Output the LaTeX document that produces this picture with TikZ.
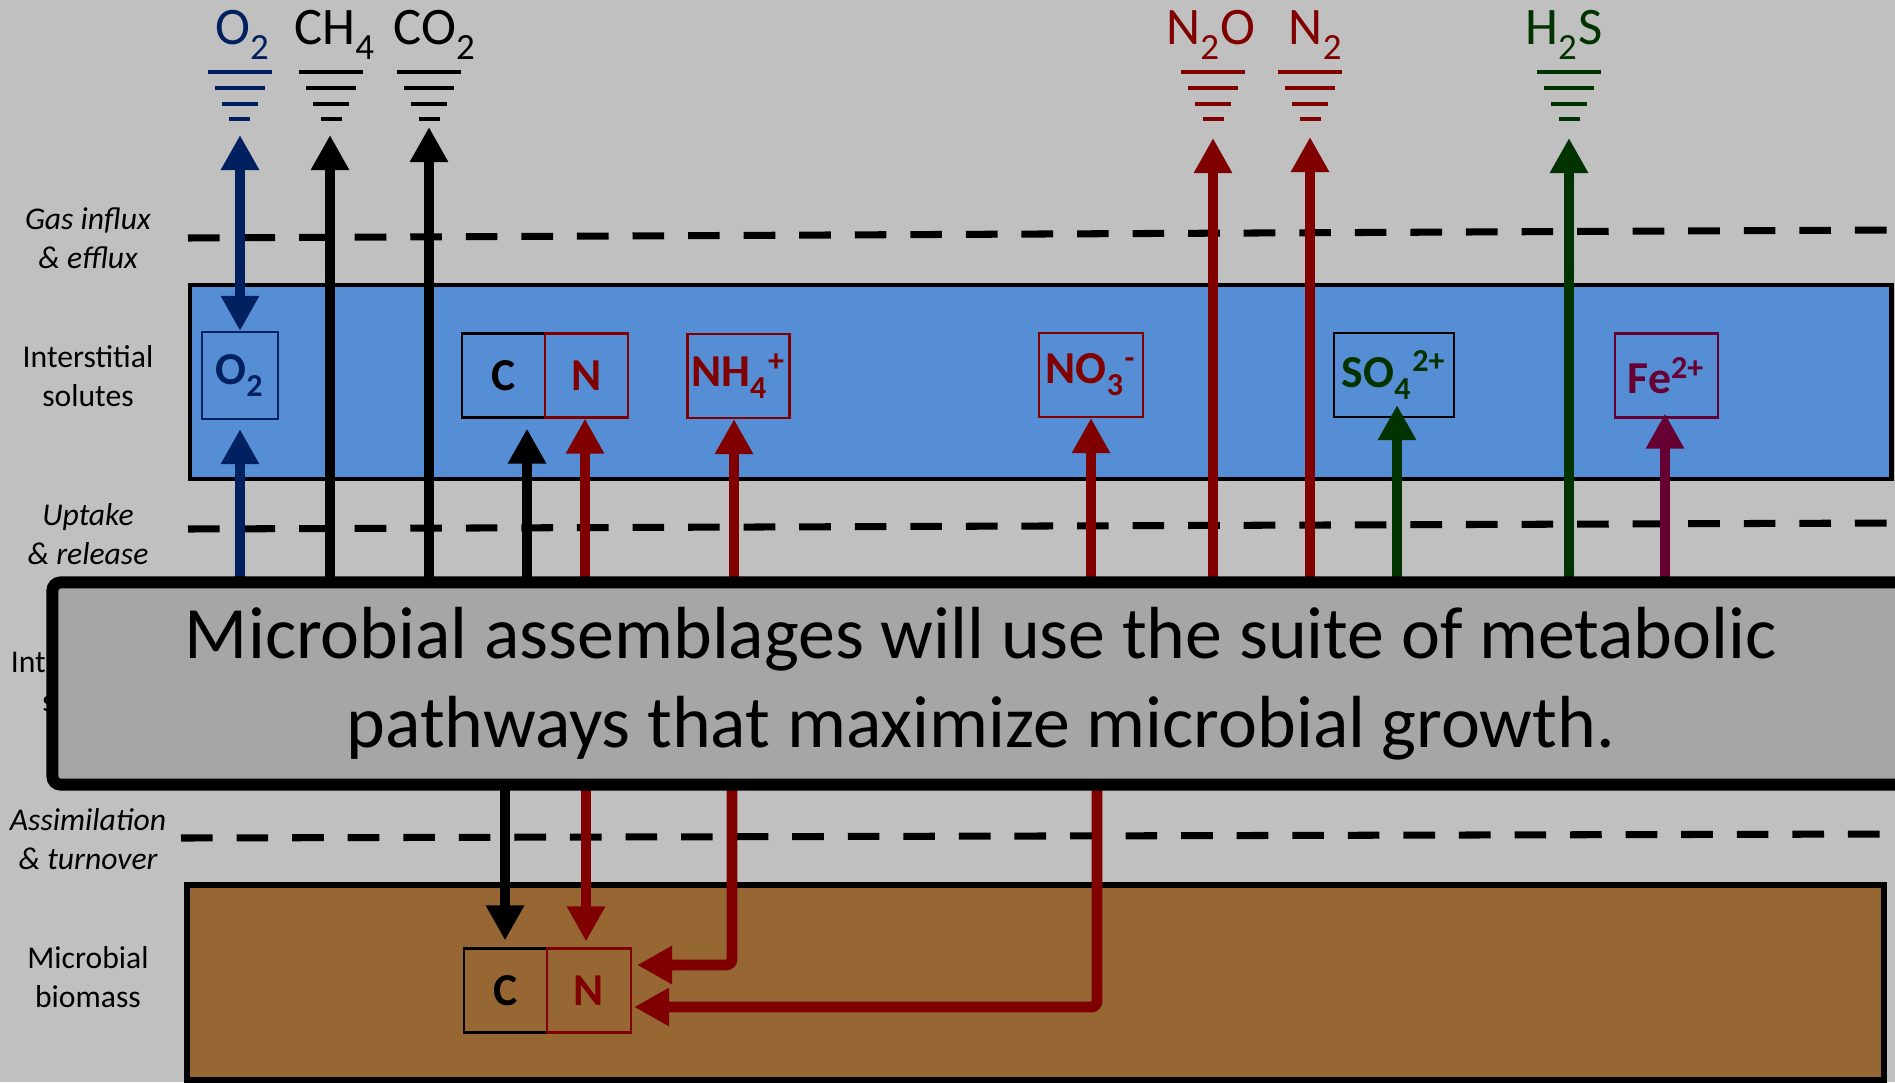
\documentclass[tikz,border=0pt]{standalone}
\usepackage{fontspec}
\setmainfont{Carlito}
\usetikzlibrary{arrows.meta,calc}

\definecolor{veil}{HTML}{C0C0C0}
\definecolor{water}{HTML}{558ED5}
\definecolor{soil}{HTML}{966633}
\definecolor{coregray}{HTML}{A6A6A6}
\definecolor{oxy}{HTML}{002060}
\definecolor{nitro}{HTML}{800000}
\definecolor{sulf}{HTML}{003300}
\definecolor{iron}{HTML}{660033}

% lowered subscript, as in the slide
\newcommand{\lo}[1]{\textsubscript{\raisebox{-0.18em}{#1}}}

\tikzset{
  flux/.style={line width=3.1pt, >={Triangle[width=0.36cm,length=0.35cm]}},
  boundary/.style={line width=2pt, dash pattern=on 9pt off 6.8pt},
  layer/.style={align=center, inner sep=0pt, font=\fontsize{9}{11}\selectfont},
  zone/.style={align=center, inner sep=0pt, font=\itshape\fontsize{9}{11}\selectfont},
  gas/.style={anchor=base, inner sep=0pt, font=\fontsize{15}{18}\selectfont},
  solute/.style={draw, line width=0.6pt, inner sep=0pt, minimum width=0.83cm,
    minimum height=0.84cm, font=\bfseries\fontsize{13}{15}\selectfont},
  mab/.style={draw, fill=coregray, line width=3.4pt, rounded corners=0.08cm,
    minimum width=18.56cm, minimum height=2.02cm, align=center,
    font=\fontsize{21}{25.2}\selectfont},
  gasbar/.pic={
    \draw[line width=1.4pt] (-32,0) -- (32,0) (-25,16) -- (25,16)
      (-18,32) -- (18,32) (-10.5,47) -- (10.5,47);
  }
}

\begin{document}
\begin{tikzpicture}[x=0.01cm,y=-0.01cm]
\useasboundingbox (0,0) rectangle (1895,1082);
\clip (0,0) rectangle (1895,1082);
\fill[veil] (0,0) rectangle (1895,1082);

% layer names
\node[zone] (lgas) at (88,238) {Gas influx\\\& efflux};
\node[layer] (lint) at (88,376) {Interstitial\\solutes};
\node[zone] (lupt) at (88,534) {Uptake\\\& release};
\node[layer] (lcell) at (88,681) {Intracellular\\solutes};
\node[zone] (lasm) at (88,839) {Assimilation\\\& turnover};
\node[layer] (lbio) at (88,977) {Microbial\\biomass};

% boundaries between layers
\draw[boundary] (188,238) -- (1895,230);
\draw[boundary] (188,529) -- (1895,523);
\draw[boundary] (181,838) -- (1895,834);

% pools
\filldraw[fill=water, line width=1.4pt] (190,285) rectangle (1891,479);
\filldraw[fill=soil, line width=1.5pt] (187,885) rectangle (1884,1080);

% gases
\node[gas, oxy] (o2g) at (243,45) {O\lo{2}};
\node[gas] (ch4g) at (335,45) {CH\lo{4}};
\node[gas] (co2g) at (435,45) {CO\lo{2}};
\node[gas, nitro] (n2og) at (1211,45) {N\lo{2}O};
\node[gas, nitro] (n2g) at (1316,45) {N\lo{2}};
\node[gas, sulf] (h2sg) at (1564,45) {H\lo{2}S};
\pic[oxy] at (239.5,72) {gasbar};
\pic at (331,72) {gasbar};
\pic at (429,72) {gasbar};
\pic[nitro] at (1213,72) {gasbar};
\pic[nitro] at (1310,72) {gasbar};
\pic[sulf] at (1569,72) {gasbar};
\coordinate (o2v) at (240,135);
\coordinate (ch4v) at (330,135);
\coordinate (co2v) at (429,127);
\coordinate (n2ov) at (1213,138);
\coordinate (n2v) at (1310,137);
\coordinate (h2sv) at (1569,138);

% interstitial solutes
\node[solute, draw=oxy, text=oxy, minimum width=0.76cm, minimum height=0.87cm] (o2i) at (240,375.5) {O\lo{2}};
\node[solute] (ci) at (503.5,375.5) {C};
\node[solute, draw=nitro, text=nitro] (ni) at (586.5,375.5) {N};
\node[solute, draw=nitro, text=nitro, minimum width=1.02cm] (nh4) at (738.5,376) {NH\lo{4}\textsuperscript{+}};
\node[solute, draw=nitro, text=nitro, minimum width=1.04cm] (no3) at (1091,375) {NO\lo{3}\textsuperscript{-}};
\node[solute, text=sulf, minimum width=1.2cm] (so4) at (1394,375) {SO\lo{4}\textsuperscript{2+}};
\node[solute, draw=iron, text=iron, minimum width=1.03cm] (fe) at (1666.5,375.5) {Fe\textsuperscript{2+}};

% biomass
\node[solute] (cb) at (505.5,990.5) {C};
\node[solute, draw=nitro, text=nitro, minimum width=0.84cm] (nb) at (589,990.5) {N};

% columns leaving the assemblage box
\coordinate (o2u) at (240,586);
\coordinate (ch4u) at (330,586);
\coordinate (co2u) at (429,586);
\coordinate (cu) at (527,586);
\coordinate (nu) at (585,586);
\coordinate (nh4u) at (734,586);
\coordinate (no3u) at (1091,586);
\coordinate (n2ou) at (1213,586);
\coordinate (n2u) at (1310,586);
\coordinate (so4u) at (1397,586);
\coordinate (h2su) at (1569,586);
\coordinate (feu) at (1665,586);
\coordinate (cd) at (505,782);
\coordinate (nd) at (586,782);
\coordinate (nh4d) at (732,782);
\coordinate (no3d) at (1097,782);

% fluxes up
\draw[flux, oxy, <->] (o2v) -- (o2i.north);
\draw[flux, oxy, ->, shorten >=0.09cm] (o2u) -- (o2i.south);
\draw[flux, ->] (ch4u) -- (ch4v);
\draw[flux, ->] (co2u) -- (co2v);
\draw[flux, ->, shorten >=0.1cm] (cu) -- (cu |- ci.south);
\draw[flux, nitro, ->] (nu) -- (nu |- ni.south);
\draw[flux, nitro, ->] (nh4u) -- (nh4u |- nh4.south);
\draw[flux, nitro, ->] (no3u) -- (no3.south);
\draw[flux, nitro, ->] (n2ou) -- (n2ov);
\draw[flux, nitro, ->] (n2u) -- (n2v);
\draw[flux, sulf, ->, shorten >=-0.13cm] (so4u) -- (so4u |- so4.south);
\draw[flux, sulf, ->] (h2su) -- (h2sv);
\draw[flux, iron, ->, shorten >=-0.05cm] (feu) -- (feu |- fe.south);

% fluxes down into biomass
\draw[flux, ->, shorten >=0.07cm] (cd) -- (cd |- cb.north);
\draw[flux, nitro, ->, shorten >=0.06cm] (nd) -- (nd |- nb.north);
\draw[flux, nitro, ->, rounded corners=0.06cm] (nh4d) |- ($(nb.east)+(5,-25.5)$);
\draw[flux, nitro, ->, rounded corners=0.06cm] (no3d) |- ($(nb.east)+(2,16.5)$);

% microbial assemblage
\node[mab] (mab) at (981,683.5) {Microbial assemblages will use the suite of metabolic\\pathways that maximize microbial growth.};
\end{tikzpicture}
\end{document}
